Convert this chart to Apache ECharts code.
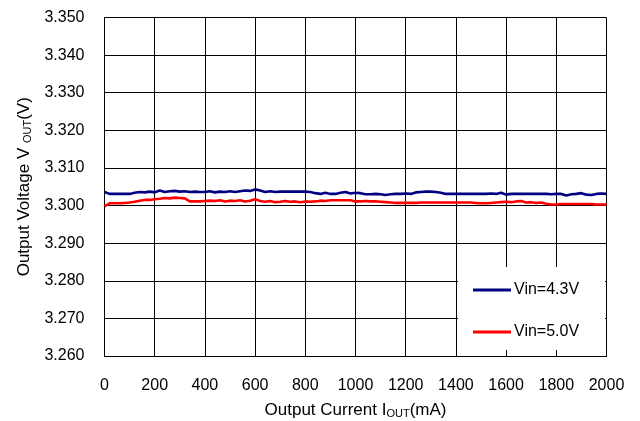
<!DOCTYPE html>
<html>
<head>
<meta charset="utf-8">
<script src="https://cdn.jsdelivr.net/npm/echarts@6/dist/echarts.min.js"></script>
<style>html,body{margin:0;padding:0;background:#fff;overflow:hidden}#c{width:640px;height:421px}</style>
</head>
<body>
<div id="c"></div>
<script>
const currents = [0,20,40,60,80,100,120,140,160,180,200,220,240,260,280,300,320,340,360,380,400,420,440,460,480,500,520,540,560,580,600,620,640,660,680,700,720,740,760,780,800,820,840,860,880,900,920,940,960,980,1000,1020,1040,1060,1080,1100,1120,1140,1160,1180,1200,1220,1240,1260,1280,1300,1320,1340,1360,1380,1400,1420,1440,1460,1480,1500,1520,1540,1560,1580,1600,1620,1640,1660,1680,1700,1720,1740,1760,1780,1800,1820,1840,1860,1880,1900,1920,1940,1960,1980,2000];
const vin43 = [3.3036,3.3031,3.3031,3.3031,3.3031,3.3031,3.3034,3.3036,3.3035,3.3037,3.3035,3.3040,3.3036,3.3038,3.3039,3.3037,3.3038,3.3036,3.3037,3.3036,3.3036,3.3038,3.3035,3.3037,3.3036,3.3038,3.3036,3.3038,3.3040,3.3039,3.3043,3.3040,3.3036,3.3038,3.3036,3.3037,3.3037,3.3037,3.3037,3.3037,3.3037,3.3036,3.3033,3.3031,3.3034,3.3031,3.3031,3.3034,3.3036,3.3032,3.3034,3.3033,3.3030,3.3030,3.3031,3.3030,3.3028,3.3030,3.3031,3.3031,3.3032,3.3031,3.3035,3.3036,3.3037,3.3037,3.3036,3.3034,3.3031,3.3031,3.3031,3.3031,3.3031,3.3031,3.3031,3.3031,3.3031,3.3032,3.3031,3.3034,3.3029,3.3031,3.3031,3.3031,3.3031,3.3031,3.3031,3.3031,3.3031,3.3030,3.3031,3.3031,3.3027,3.3030,3.3031,3.3033,3.3029,3.3028,3.3031,3.3032,3.3031];
const vin50 = [3.2998,3.3006,3.3006,3.3006,3.3007,3.3008,3.3010,3.3013,3.3015,3.3015,3.3017,3.3018,3.3020,3.3019,3.3021,3.3020,3.3019,3.3011,3.3011,3.3011,3.3012,3.3013,3.3012,3.3014,3.3011,3.3013,3.3012,3.3014,3.3011,3.3013,3.3017,3.3012,3.3010,3.3012,3.3009,3.3010,3.3012,3.3010,3.3011,3.3009,3.3011,3.3010,3.3011,3.3013,3.3012,3.3014,3.3014,3.3014,3.3014,3.3014,3.3011,3.3011,3.3012,3.3011,3.3011,3.3010,3.3009,3.3008,3.3007,3.3007,3.3007,3.3007,3.3007,3.3008,3.3008,3.3008,3.3008,3.3008,3.3008,3.3008,3.3008,3.3008,3.3008,3.3008,3.3007,3.3006,3.3006,3.3007,3.3008,3.3009,3.3010,3.3009,3.3011,3.3012,3.3008,3.3009,3.3007,3.3008,3.3005,3.3003,3.3003,3.3004,3.3004,3.3004,3.3004,3.3004,3.3004,3.3004,3.3003,3.3003,3.3003];
const seriesNames = ['Vin=4.3V','Vin=5.0V'];
const seriesColors = ['#000080','#ff0000'];

const FONT = 'Liberation Sans, Arial, sans-serif';
const chart = echarts.init(document.getElementById('c'), null, {renderer:'canvas'});
const pair = arr => currents.map((c,i)=>[c, arr[i]]);
chart.setOption({
  animation:false,
  backgroundColor:'#fff',
  textStyle:{fontFamily:FONT},
  grid:{left:104.5, right:33.5, top:17.5, bottom:65, containLabel:false, outerBoundsMode:'none'},
  xAxis:{
    type:'value', min:0, max:2000, interval:200,
    axisLine:{show:true, onZero:false, lineStyle:{color:'#000', width:1}},
    axisTick:{show:false},
    splitLine:{show:true, lineStyle:{color:'#000', width:1}},
    axisLabel:{color:'#000', fontSize:16, fontFamily:FONT, margin:22, formatter:v=>String(v)},
    name:'Output Current I{sub|OUT}(mA)', nameLocation:'middle', nameGap:45,
    nameTextStyle:{color:'#000', fontSize:17, fontFamily:FONT,
      rich:{sub:{fontSize:11, fontFamily:FONT, color:'#000', verticalAlign:'bottom', padding:[7,0,0,0]}}}
  },
  yAxis:{
    type:'value', min:3.26, max:3.35, interval:0.01,
    axisLine:{show:true, onZero:false, lineStyle:{color:'#000', width:1}},
    axisTick:{show:false},
    splitLine:{show:true, lineStyle:{color:'#000', width:1}},
    axisLabel:{color:'#000', fontSize:16, fontFamily:FONT, margin:20, formatter:v=>v.toFixed(3)},
    name:'Output Voltage V {sub|OUT}(V)', nameLocation:'middle', nameGap:68,
    nameTextStyle:{color:'#000', fontSize:17, fontFamily:FONT,
      rich:{sub:{fontSize:11, fontFamily:FONT, color:'#000', verticalAlign:'bottom', padding:[7,0,0,0]}}}
  },
  graphic:[{
    type:'rect', z:50, silent:true,
    shape:{x:458, y:267, width:147, height:83},
    style:{fill:'#fff', stroke:null}
  }],
  legend:{
    orient:'vertical', left:473, top:282, z:60, padding:0,
    icon:'rect', itemWidth:38, itemHeight:3, itemGap:26,
    textStyle:{color:'#000', fontSize:16, fontFamily:FONT, padding:[0,0,0,-2]},
    data:seriesNames
  },
  series:[
    {name:seriesNames[0], type:'line', data:pair(vin43), showSymbol:false, symbol:'none',
     lineStyle:{color:seriesColors[0], width:2.6}, itemStyle:{color:seriesColors[0]}},
    {name:seriesNames[1], type:'line', data:pair(vin50), showSymbol:false, symbol:'none',
     lineStyle:{color:seriesColors[1], width:2.6}, itemStyle:{color:seriesColors[1]}}
  ]
});
</script>
</body>
</html>
